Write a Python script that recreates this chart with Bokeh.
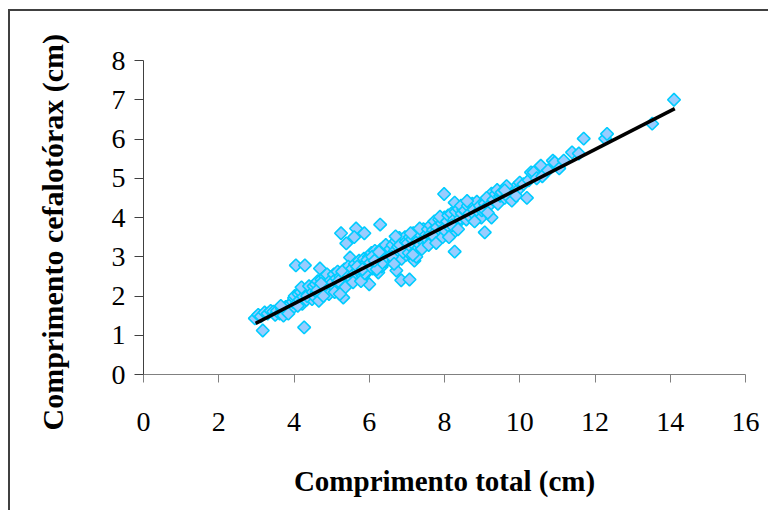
import numpy as np
from bokeh.plotting import figure
from bokeh.models import ColumnDataSource, FixedTicker, Title
from bokeh.embed import file_html
from bokeh.resources import INLINE

# Comprimento total (cm)
comp_total = [
    2.96, 3.05, 3.12, 3.17, 3.22, 3.3, 3.38, 3.45, 3.5,
    3.55, 3.62, 3.68, 3.72, 3.78, 3.82, 3.88, 3.92, 3.97, 4.0, 3.65, 3.85,
    4.05, 4.29, 4.27, 4.02, 4.08, 4.12, 4.15, 4.18, 4.22, 4.25, 4.3, 4.33, 4.38, 4.42, 4.45, 4.48, 4.1, 4.2, 4.35, 4.4, 4.5,
    4.69, 4.52, 4.55, 4.58, 4.6, 4.63, 4.66, 4.7, 4.73, 4.76, 4.8, 4.83, 4.86, 4.9, 4.93, 4.96, 5.0, 4.62, 4.78, 4.88, 4.98, 4.72,
    5.25, 5.39, 5.49, 5.31, 5.03, 5.06, 5.1, 5.13, 5.16, 5.2, 5.23, 5.27, 5.3, 5.34, 5.37, 5.41, 5.44, 5.47, 5.5, 5.08, 5.18, 5.28, 5.36, 5.45, 5.22,
    5.65, 5.87, 5.6, 6.0, 5.52, 5.55, 5.58, 5.62, 5.66, 5.7, 5.73, 5.76, 5.8, 5.83, 5.86, 5.9, 5.93, 5.96, 5.99, 5.57, 5.68, 5.78, 5.88, 5.95, 5.82,
    6.29, 6.03, 6.06, 6.09, 6.12, 6.15, 6.18, 6.21, 6.24, 6.27, 6.3, 6.33, 6.36, 6.39, 6.42, 6.45, 6.48, 6.5, 6.08, 6.2, 6.35, 6.44, 6.14, 6.26,
    6.72, 6.85, 6.53, 6.56, 6.59, 6.62, 6.65, 6.68, 6.71, 6.74, 6.77, 6.8, 6.83, 6.86, 6.89, 6.92, 6.95, 6.98, 6.6, 6.7, 6.82, 6.9, 6.97, 6.66,
    7.07, 7.2, 7.02, 7.05, 7.08, 7.11, 7.14, 7.17, 7.2, 7.23, 7.26, 7.29, 7.32, 7.35, 7.38, 7.41, 7.44, 7.47, 7.5, 7.1, 7.25, 7.4, 7.16, 7.34,
    7.99, 7.53, 7.56, 7.6, 7.63, 7.66, 7.7, 7.73, 7.76, 7.8, 7.83, 7.86, 7.9, 7.93, 7.96, 8.0, 7.58, 7.68, 7.78, 7.88, 7.95,
    8.27, 8.27, 8.03, 8.07, 8.1, 8.14, 8.18, 8.22, 8.26, 8.3, 8.34, 8.38, 8.42, 8.46, 8.5, 8.12, 8.2, 8.36, 8.44,
    8.54, 8.58, 8.62, 8.66, 8.7, 8.74, 8.78, 8.82, 8.86, 8.9, 8.94, 8.98, 8.6, 8.8, 8.99,
    9.07, 9.07, 9.25, 9.25, 9.05, 9.12, 9.18, 9.3, 9.36, 9.42, 9.48, 9.15, 9.4,
    9.52, 9.6, 9.71, 9.79, 9.87, 9.95, 9.65, 9.9, 9.6,
    10.0, 10.1, 10.19, 10.24, 10.3, 10.37, 10.45,
    10.56, 10.6, 10.75, 10.88, 10.93, 11.05,
    11.17, 11.39, 11.57, 11.7, 12.27, 12.32, 13.52, 14.1,
]

# Comprimento cefalotórax (cm)
comp_cefalotorax = [
    1.43, 1.52, 1.48, 1.12, 1.58, 1.55, 1.62, 1.6, 1.52,
    1.62, 1.55, 1.68, 1.5, 1.72, 1.6, 1.78, 1.65, 1.85, 1.95, 1.75, 1.55,
    2.78, 2.78, 1.2, 2.0, 1.82, 2.05, 1.9, 2.1, 1.8, 1.98, 2.12, 1.9, 2.18, 2.02, 2.2, 1.92, 1.75, 2.22, 2.0, 2.25, 2.1,
    2.7, 2.25, 1.98, 2.3, 2.1, 2.38, 1.88, 2.2, 2.42, 2.08, 2.3, 2.5, 2.15, 2.35, 2.05, 2.48, 2.28, 2.15, 2.0, 2.55, 2.4, 2.32,
    3.6, 3.34, 2.98, 1.96, 2.35, 2.55, 2.2, 2.45, 2.62, 2.3, 2.5, 2.15, 2.4, 2.68, 2.35, 2.55, 2.75, 2.42, 2.6, 2.1, 2.38, 2.62, 2.22, 2.5, 2.05,
    3.72, 3.6, 3.5, 2.3, 2.45, 2.7, 2.55, 2.82, 2.48, 2.65, 2.9, 2.6, 2.78, 2.5, 2.95, 2.72, 2.85, 2.62, 3.0, 2.35, 2.75, 2.38, 2.58, 2.92, 2.68,
    3.82, 2.85, 3.1, 2.7, 2.95, 3.15, 2.8, 3.05, 2.6, 2.92, 3.18, 2.75, 3.02, 3.25, 2.88, 3.1, 2.95, 3.2, 3.0, 2.68, 2.85, 3.3, 2.9, 3.12,
    2.65, 2.4, 2.95, 3.2, 3.05, 3.3, 2.9, 3.15, 3.4, 3.0, 3.25, 3.48, 3.1, 2.95, 3.35, 3.2, 3.5, 3.05, 3.0, 3.52, 3.3, 3.12, 3.38, 2.82,
    2.42, 2.9, 3.35, 3.1, 3.5, 3.25, 3.45, 3.6, 3.3, 3.15, 3.52, 3.4, 3.65, 3.3, 3.55, 3.42, 3.7, 3.35, 3.58, 3.6, 3.0, 3.2, 3.05, 3.72,
    4.6, 3.45, 3.7, 3.55, 3.8, 3.4, 3.68, 3.9, 3.58, 3.75, 3.48, 3.95, 3.62, 3.85, 3.7, 4.0, 3.3, 3.55, 3.35, 4.02, 3.5,
    4.38, 3.13, 3.65, 3.9, 4.05, 3.75, 4.1, 3.6, 3.95, 4.15, 3.85, 4.22, 3.98, 4.1, 4.2, 3.5, 3.8, 3.7, 4.3,
    4.18, 3.95, 4.3, 4.1, 4.0, 4.35, 4.2, 4.05, 4.4, 4.15, 4.3, 4.0, 4.42, 3.9, 4.18,
    3.62, 4.36, 4.61, 4.0, 4.2, 4.5, 4.3, 4.45, 4.6, 4.35, 4.55, 4.12, 4.7,
    4.64, 4.5, 4.51, 4.43, 4.76, 4.7, 4.8, 4.55, 4.69,
    4.89, 4.85, 4.5, 4.95, 5.15, 5.15, 5.0,
    5.32, 5.05, 5.2, 5.45, 5.4, 5.25,
    5.45, 5.66, 5.63, 6.01, 6.01, 6.13, 6.39, 7.0,
]

# Linear trend line
trend_slope = 0.491
trend_intercept = -0.16
trend_x = [2.98, 14.12]

x_ticks = [0, 2, 4, 6, 8, 10, 12, 14, 16]
y_ticks = [0, 1, 2, 3, 4, 5, 6, 7, 8]

x_title = "Comprimento total (cm)"
y_title = "Comprimento cefalotórax (cm)"

src = ColumnDataSource(dict(x=comp_total, y=comp_cefalotorax))
trend_y = [trend_slope * v + trend_intercept for v in trend_x]

SHIFT = 20
W, H = 768 + SHIFT, 510
p = figure(width=W, height=H, x_range=(0, 16), y_range=(0, 8),
           output_backend="svg", toolbar_location=None,
           min_border_left=143 + SHIFT, min_border_right=23,
           min_border_top=60, min_border_bottom=136)
# outer chart-area border (top and left edges visible in the reference)
p.styles = {
    "margin-left": f"-{SHIFT}px",
    "background": f"linear-gradient(#404040, #404040) {8 + SHIFT}px 9px / 2px 100% no-repeat, "
                  f"linear-gradient(#404040, #404040) {8 + SHIFT}px 9px / 100% 2px no-repeat, white",
}

p.scatter("x", "y", source=src, marker="square", angle=np.pi / 4, size=9,
          fill_color="#99CCFF", line_color="#00CCFF", line_width=1.6)
p.line(trend_x, trend_y, line_color="black", line_width=3.5)

p.grid.visible = False
p.outline_line_color = None
p.background_fill_color = "white"
p.border_fill_alpha = 0

font = "Liberation Serif"
for ax in (p.xaxis[0], p.yaxis[0]):
    ax.major_label_text_font = font
    ax.major_label_text_font_size = "28px"
    ax.major_label_text_color = "black"
    ax.axis_label_text_font = font
    ax.axis_label_text_font_size = "29px"
    ax.axis_label_text_font_style = "bold"
    ax.axis_label_text_color = "black"
    ax.minor_tick_line_color = None
    ax.major_tick_in = 0

p.xaxis[0].ticker = FixedTicker(ticks=x_ticks)
p.yaxis[0].ticker = FixedTicker(ticks=y_ticks)
p.xaxis.axis_label = x_title

p.xaxis.axis_line_color = "#808080"
p.xaxis.major_tick_line_color = "#808080"
p.xaxis.major_tick_out = 8
p.xaxis.major_label_standoff = 30
p.xaxis.axis_label_standoff = 31

p.yaxis.axis_line_color = "#404040"
p.yaxis.major_tick_line_color = "#404040"
p.yaxis.major_tick_out = 9
p.yaxis.major_label_standoff = 9

ytitle = Title(text=y_title, align="left", offset=-56, vertical_align="bottom",
               standoff=80, text_font=font, text_font_size="30px",
               text_font_style="bold", text_color="black")
p.add_layout(ytitle, "left")

open("out.html", "w").write(file_html(p, INLINE))
